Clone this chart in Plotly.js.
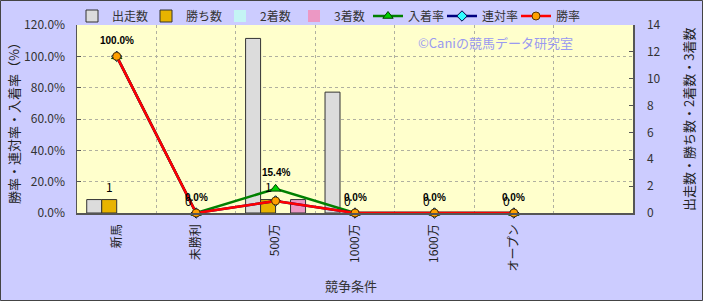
<!DOCTYPE html>
<html>
<head>
<meta charset="utf-8">
<script src="https://cdn.plot.ly/plotly-3.0.1.min.js"></script>
<style>html,body{margin:0;padding:0;background:#ccccff;}#chart{width:703px;height:301px;}</style>
</head>
<body>
<div id="chart"></div>
<script>
const categories = ['新馬', '未勝利', '500万', '1000万', '1600万', 'オープン'];
const starts = [1, 0, 13, 9, 0, 0];
const wins = [1, 0, 1, 0, 0, 0];
const seconds = [0, 0, 0, 0, 0, 0];
const thirds = [0, 0, 1, 0, 0, 0];
const placeRate = [100, 0, 15.4, 0, 0, 0];
const rentaiRate = [100, 0, 7.7, 0, 0, 0];
const winRate = [100, 0, 7.7, 0, 0, 0];
const leftTicks = [0, 20, 40, 60, 80, 100, 120];
const rightTicks = [0, 2, 4, 6, 8, 10, 12, 14];

const xs = categories.map((c, i) => i);
const FONT = '"Noto Sans CJK JP", "Noto Sans", sans-serif';

function barTrace(name, vals, color) {
  return {type: 'bar', name: name, x: xs, y: vals, yaxis: 'y',
    marker: {color: color, line: {color: '#333333', width: vals.map(v => v > 0 ? 1 : 0)}}, hoverinfo: 'skip'};
}
function lineTrace(name, vals, lineColor, sym, mcolor, mline, msize) {
  return {type: 'scatter', mode: 'lines+markers', name: name, x: xs, y: vals, yaxis: 'y2',
    line: {color: lineColor, width: 2.5},
    marker: {symbol: sym, color: mcolor, size: msize, line: {color: mline, width: 1}},
    cliponaxis: false, hoverinfo: 'skip'};
}

const data = [
  barTrace('出走数', starts, '#dcdcdc'),
  barTrace('勝ち数', wins, '#e8b400'),
  barTrace('2着数', seconds, '#c4f4f4'),
  barTrace('3着数', thirds, '#ec98c4'),
  lineTrace('入着率', placeRate, '#008000', 'triangle-up', '#00d000', '#004000', 9),
  lineTrace('連対率', rentaiRate, '#000080', 'diamond', '#33ffff', '#000040', 8),
  lineTrace('勝率', winRate, '#ff0000', 'circle', '#ffa000', '#553300', 8)
];

const annotations = [];
placeRate.forEach((v, i) => {
  annotations.push({x: xs[i], y: v, xref: 'x', yref: 'y2', text: v.toFixed(1) + '%',
    showarrow: false, xanchor: 'center', yanchor: 'middle', yshift: 16,
    font: {family: 'Arial, "Liberation Sans", sans-serif', size: 10, color: '#000', weight: 'bold'}});
});
wins.forEach((v, i) => {
  annotations.push({x: xs[i], y: v, xref: 'x', yref: 'y', text: String(v),
    showarrow: false, xanchor: 'center', yanchor: 'middle', yshift: 13, xshift: -7.5,
    font: {family: FONT, size: 12, color: '#000'}});
});
annotations.push({x: (495 - 77) / 556, y: (213 - 43) / 188, xref: 'paper', yref: 'paper', text: '©Caniの競馬データ研究室',
  showarrow: false, xanchor: 'center', yanchor: 'middle', font: {family: FONT, size: 13, color: '#9a9af0'}});
annotations.push({x: (351 - 77) / 556, y: (213 - 285) / 188, xref: 'paper', yref: 'paper', text: '競争条件',
  showarrow: false, xanchor: 'center', yanchor: 'middle', font: {family: FONT, size: 13, color: '#333'}});
annotations.push({x: (14 - 77) / 556, y: (213 - 120) / 188, xref: 'paper', yref: 'paper',
  text: '勝率・連対率・入着率（%）', textangle: -90, showarrow: false, xanchor: 'center', yanchor: 'middle',
  font: {family: FONT, size: 13, color: '#222'}});
annotations.push({x: (689 - 77) / 556, y: (213 - 120) / 188, xref: 'paper', yref: 'paper',
  text: '出走数・勝ち数・2着数・3着数', textangle: -90, showarrow: false, xanchor: 'center', yanchor: 'middle',
  font: {family: FONT, size: 13, color: '#222'}});

const layout = {
  width: 703, height: 301,
  margin: {l: 77, r: 70, t: 25, b: 88, pad: 0, autoexpand: false},
  paper_bgcolor: '#ccccff', plot_bgcolor: '#ffffcc',
  font: {family: FONT, size: 12, color: '#333'},
  barmode: 'group', bargap: 0.245, bargroupgap: 0,
  showlegend: true,
  legend: {orientation: 'h', xref: 'container', yref: 'container', x: 72 / 703, xanchor: 'left',
    y: 1 - 16 / 301, yanchor: 'middle',
    bgcolor: 'rgba(0,0,0,0)', font: {family: FONT, size: 12, color: '#333'},
    itemwidth: 30, entrywidth: 29, tracegroupgap: 0, traceorder: 'normal'},
  xaxis: {range: [-0.5, 6.5], tickmode: 'array', tickvals: xs, ticktext: categories,
    tickangle: -90, showgrid: false, zeroline: false, showline: true, linecolor: '#555', linewidth: 1.5,
    ticks: '', ticklabelstandoff: 5, tickfont: {family: FONT, size: 12, color: '#222'},
    minor: {tickmode: 'linear', tick0: 0.5, dtick: 1, showgrid: true, gridcolor: '#b0b0a0', griddash: 'dot', gridwidth: 1, ticks: ''}},
  yaxis: {range: [0, 14], tickmode: 'array', tickvals: rightTicks, side: 'right',
    showgrid: false, zeroline: false, showline: true, linecolor: '#555', linewidth: 1.5,
    ticks: 'inside', ticklen: 4, tickcolor: '#555', ticklabelstandoff: 10, tickfont: {size: 12, color: '#333'}},
  yaxis2: {range: [0, 120], tickmode: 'array', tickvals: leftTicks,
    ticktext: leftTicks.map(v => v.toFixed(1) + '%'), side: 'left', overlaying: 'y',
    showgrid: true, gridcolor: '#b0b0a0', griddash: 'dot', zeroline: false, showline: true,
    linecolor: '#555', linewidth: 1.5, ticks: 'inside', ticklen: 4, tickcolor: '#555', ticklabelstandoff: 8,
    tickfont: {size: 12, color: '#333'}},
  annotations: annotations,
  shapes: [{type: 'rect', xref: 'paper', yref: 'paper',
    x0: -76.5 / 556, x1: (702.5 - 77) / 556, y0: (213 - 300.5) / 188, y1: (213 - 0.5) / 188,
    line: {color: '#444', width: 1}, fillcolor: 'rgba(0,0,0,0)', layer: 'above'}]
};

Plotly.newPlot('chart', data, layout, {displayModeBar: false, staticPlot: true});
</script>
</body>
</html>
